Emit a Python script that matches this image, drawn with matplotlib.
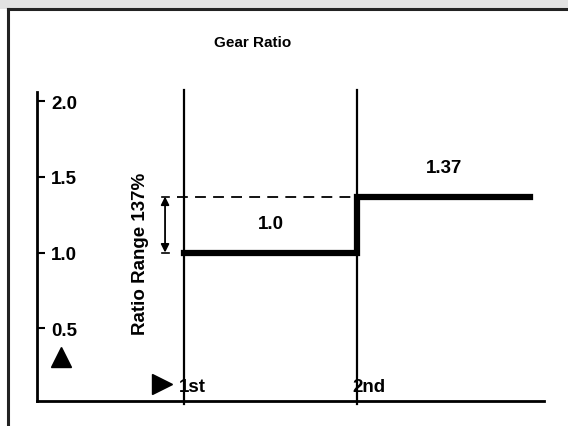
import numpy as np
import matplotlib.pyplot as plt
from matplotlib.patches import Rectangle

plt.rcParams['font.family'] = ['Liberation Sans', 'DejaVu Sans']

# data
gears = [1, 2]
gear_labels = ['1st', '2nd']
ratios = [1.0, 1.37]
step_end = 3.0
yticks = [0.5, 1.0, 1.5, 2.0]
range_label = 'Ratio Range 137%'

fig = plt.figure(figsize=(5.68, 4.27), dpi=100)

# grey band and frame at top / left
fig.patches.append(Rectangle((0, 0.976), 1, 0.024, transform=fig.transFigure,
                             facecolor='#e2e2e2', edgecolor='none', zorder=0))
fig.add_artist(plt.Line2D([8 / 568, 1], [1 - 10 / 427] * 2, color='#222222', lw=2.2))
fig.add_artist(plt.Line2D([8 / 568] * 2, [0, 1 - 10 / 427], color='#222222', lw=2.2))

ax = fig.add_axes([37 / 568, 25 / 427, 507 / 568, 309 / 427])
ax.set_xlim(0.15, 3.08)
ax.set_ylim(0.02, 2.06)
for s in ['top', 'right']:
    ax.spines[s].set_visible(False)
for s in ['left', 'bottom']:
    ax.spines[s].set_linewidth(2)

ax.set_yticks(yticks)
ax.set_yticklabels([f'{v:.1f}' for v in yticks], fontsize=13.5, fontweight='bold')
ax.tick_params(axis='y', direction='in', length=6, width=1.5, pad=-10)
for lab in ax.get_yticklabels():
    lab.set_horizontalalignment('left')
ax.set_xticks([])

# gear verticals
for g, lab in zip(gears, gear_labels):
    ax.plot([g, g], [0.0, 2.07], color='black', lw=1.6, clip_on=False)
    ax.text(g - 0.03, 0.115, lab, fontsize=13.5, fontweight='bold', va='center', ha='left')

# step line
xs = [gears[0], gears[1], gears[1], step_end]
ys = [ratios[0], ratios[0], ratios[1], ratios[1]]
ax.plot(xs, ys, color='black', lw=4.5, solid_joinstyle='miter')
ax.plot([gears[0] - 0.04, gears[1]], [ratios[1]] * 2, color='black', lw=1.3,
        dashes=(6, 4))

# value labels
ax.text((gears[0] + gears[1]) / 2, ratios[0] + 0.16, '1.0', fontsize=13.5,
        fontweight='bold', ha='center')
ax.text((gears[1] + step_end) / 2, ratios[1] + 0.16, '1.37', fontsize=13.5,
        fontweight='bold', ha='center')

# ratio range arrow
ax.annotate('', xy=(0.89, ratios[0]), xytext=(0.89, ratios[1]),
            arrowprops=dict(arrowstyle='<|-|>', color='black', lw=1.3,
                            mutation_scale=12, shrinkA=0, shrinkB=0))
for r in ratios:
    ax.plot([0.87, 0.91], [r, r], color='black', lw=1.2)
ax.text(0.75, 1.0, range_label, rotation=90, fontsize=13.5, fontweight='bold',
        ha='center', va='center')

# axis markers
ax.plot(0.29, 0.31, marker='^', color='black', markersize=14)
ax.plot(0.875, 0.135, marker='>', color='black', markersize=15)

fig.text(253 / 568, 1 - 43 / 427, 'Gear Ratio', fontsize=11, fontweight='bold',
         ha='center', va='center')

fig.savefig('out.png', dpi=100)
